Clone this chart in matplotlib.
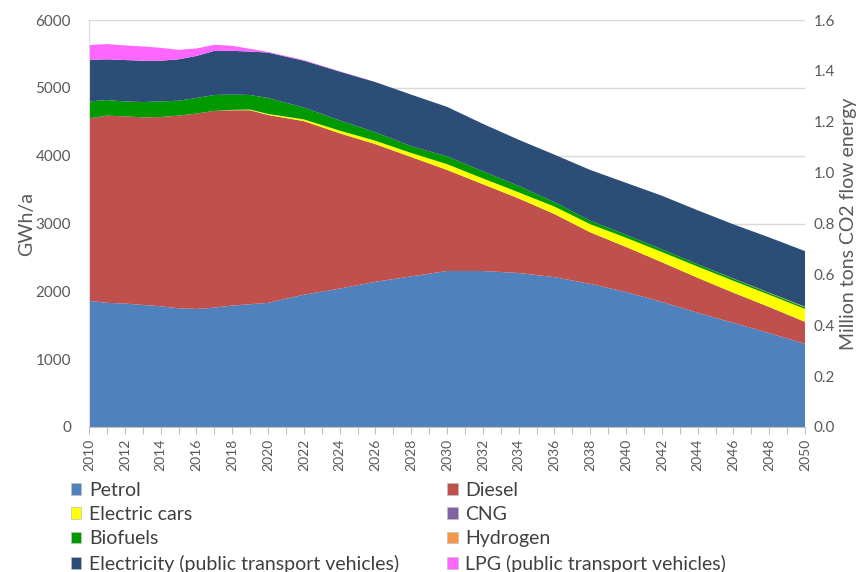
import matplotlib.pyplot as plt
from matplotlib.patches import Patch
from matplotlib.ticker import FormatStrFormatter

plt.rcParams['font.family'] = ['Lato', 'DejaVu Sans']

years = [2010, 2011, 2012, 2013, 2014, 2015, 2016, 2017, 2018, 2019, 2020,
         2022, 2024, 2026, 2028, 2030, 2032, 2034, 2036, 2038, 2040,
         2042, 2044, 2046, 2048, 2050]

petrol = [1860, 1830, 1820, 1800, 1780, 1750, 1740, 1760, 1790, 1810, 1830,
          1950, 2040, 2140, 2220, 2300, 2300, 2270, 2210, 2110, 1990,
          1845, 1685, 1535, 1385, 1225]
diesel = [2690, 2760, 2760, 2765, 2790, 2840, 2880, 2900, 2880, 2860, 2770,
          2560, 2290, 2030, 1760, 1490, 1280, 1100, 930, 760, 665,
          585, 515, 445, 385, 325]
electric_cars = [0, 0, 0, 0, 0, 0, 0, 0, 5, 10, 15,
                 25, 40, 50, 60, 85, 85, 90, 110, 120, 135,
                 150, 165, 175, 180, 190]
cng = [0] * 26
biofuels = [250, 230, 220, 225, 230, 220, 230, 235, 225, 215, 235,
            175, 150, 125, 100, 115, 105, 95, 65, 50, 45,
            40, 35, 30, 25, 25]
hydrogen = [0] * 23 + [3, 5, 8]
electricity = [610, 600, 610, 610, 600, 610, 620, 650, 645, 640, 670,
               690, 720, 740, 760, 730, 700, 680, 700, 750, 765,
               790, 795, 800, 815, 820]
lpg = [220, 225, 215, 210, 190, 140, 110, 90, 75, 40, 10,
       10, 5, 3, 0, 0, 0, 0, 0, 0, 0,
       0, 0, 0, 0, 0]

labels = ['Petrol', 'Diesel', 'Electric cars', 'CNG', 'Biofuels', 'Hydrogen',
          'Electricity (public transport vehicles)', 'LPG (public transport vehicles)']
colors = ['#4F81BD', '#C0504D', '#FFFF00', '#8064A2', '#009A00', '#F79646',
          '#2C4D75', '#FF66FF']

grey = '#595959'

fig = plt.figure(figsize=(8.61, 5.72), dpi=100)
ax = fig.add_axes([89 / 861, 1 - 427 / 572, (805 - 89) / 861, (427 - 20) / 572])

ax.stackplot(years, petrol, diesel, electric_cars, cng, biofuels, hydrogen,
             electricity, lpg, colors=colors, labels=labels, linewidth=0)

ax.set_xlim(2010, 2050)
ax.set_ylim(0, 6000)
ax.set_yticks(range(0, 6001, 1000))
ax.set_xticks(range(2010, 2051))
ax.set_xticklabels([str(y) if y % 2 == 0 else '' for y in range(2010, 2051)],
                   rotation=90)
ax.yaxis.grid(True, color='#D9D9D9', linewidth=1)
ax.set_axisbelow(True)
ax.tick_params(axis='x', colors='#BFBFBF', labelcolor=grey, labelsize=10,
               length=5, direction='out')
ax.tick_params(axis='y', length=0, labelcolor=grey, labelsize=11, pad=13)
for s in ['top', 'right']:
    ax.spines[s].set_visible(False)
ax.spines['left'].set_color('#D9D9D9')
ax.spines['bottom'].set_color('#BFBFBF')
ax.set_ylabel('GWh/a', color=grey, fontsize=14, labelpad=0)

ax2 = ax.twinx()
ax2.set_ylim(0, 1.6)
ax2.set_yticks([i * 0.2 for i in range(9)])
ax2.yaxis.set_major_formatter(FormatStrFormatter('%.1f'))
ax2.tick_params(axis='y', length=0, labelcolor=grey, labelsize=11, pad=6)
for s in ['top', 'right', 'left', 'bottom']:
    ax2.spines[s].set_visible(False)
ax2.set_ylabel('Million tons CO2 flow energy', color=grey, fontsize=14, labelpad=4)

order = [0, 2, 4, 6, 1, 3, 5, 7]
handles = [Patch(facecolor=colors[i], edgecolor='#BFBFBF', linewidth=0.5) for i in order]
fig.legend(handles, [labels[i] for i in order], ncol=2, frameon=False,
           loc='upper left', bbox_to_anchor=(57 / 861, 1 - 468 / 572),
           fontsize=14, labelcolor='#404040', handlelength=0.55, handleheight=0.55,
           handletextpad=0.4, columnspacing=2.45, labelspacing=0.38,
           borderpad=0.2)

fig.savefig('out.png', dpi=100)
